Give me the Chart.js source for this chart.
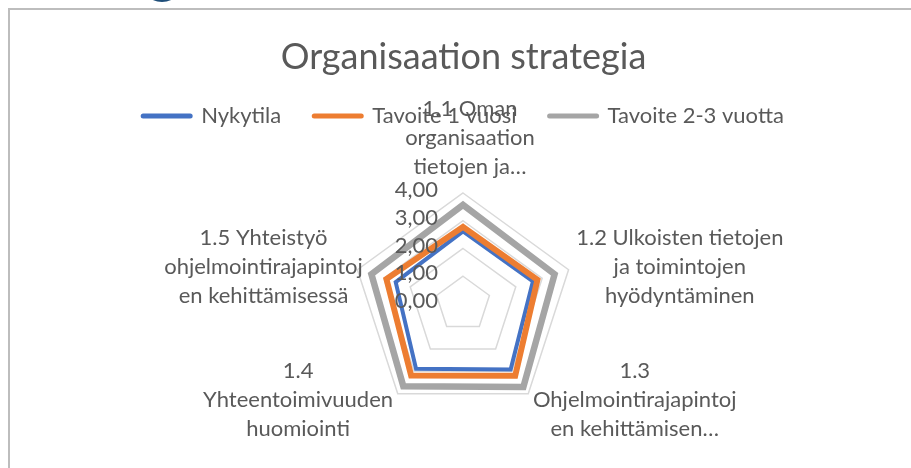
<!DOCTYPE html>
<html lang="fi">
<head>
<meta charset="utf-8">
<title>Organisaation strategia</title>
<script src="https://cdn.jsdelivr.net/npm/chart.js@4.4.1/dist/chart.umd.min.js"></script>
<style>
  html, body { margin: 0; padding: 0; background: #fff; overflow: hidden; }
  #wrap { position: relative; width: 911px; height: 468px; }
  #frame {
    position: absolute; left: 8px; top: 8px; width: 920px; height: 480px;
    border-top: 2px solid #bdbdbd; border-left: 2px solid #bdbdbd;
  }
  #logo {
    position: absolute; left: 150px; top: -10px; width: 24px; height: 12px;
    border-radius: 50%; background: #1f4e79;
  }
  canvas { position: absolute; left: 0; top: 0; }
</style>
</head>
<body>
<div id="wrap">
  <div id="logo"></div>
  <div id="frame"></div>
  <canvas id="chart" width="911" height="468"></canvas>
</div>
<script>
// Kategoriat (rivitetty kuten alkuperäisessä kaaviossa)
const categories = [
  ['1.1 Oman', 'organisaation', 'tietojen ja…'],
  ['1.2 Ulkoisten tietojen', 'ja toimintojen', 'hyödyntäminen'],
  ['1.3', 'Ohjelmointirajapintoj', 'en kehittämisen…'],
  ['1.4', 'Yhteentoimivuuden', 'huomiointi'],
  ['1.5 Yhteistyö', 'ohjelmointirajapintoj', 'en kehittämisessä']
];

const seriesNames = ['Nykytila', 'Tavoite 1 vuosi', 'Tavoite 2-3 vuotta'];
const nykytila = [2.62, 2.65, 2.92, 2.88, 2.55];
const tavoite1 = [2.78, 2.82, 3.2, 3.18, 2.9];
const tavoite23 = [3.57, 3.47, 3.7, 3.66, 3.47];

const tickValues = [0, 1, 2, 3, 4];

const FONT = 'Lato';
const TEXT = '#595959';

// label-siirrot (Excel asettelee pari nimiötä hieman eri tavalla)
const labelShift = [[7, -4], [0, 0], [0, 0], [0, 0], [13, 0]];

const fmt = v => v.toFixed(2).replace('.', ',');

// oma piirto akselin arvoille ja kategorianimille
const radarText = {
  id: 'radarText',
  afterDatasetsDraw(chart) {
    const s = chart.scales.r;
    const ctx = chart.ctx;
    ctx.save();
    ctx.fillStyle = TEXT;
    ctx.font = '22px ' + FONT;

    // arvoasteikko akselin vasemmalle puolelle
    ctx.textAlign = 'right';
    ctx.textBaseline = 'middle';
    tickValues.forEach(v => {
      const y = s.yCenter - s.getDistanceFromCenterForValue(v);
      ctx.fillText(fmt(v), s.xCenter - 25, y - 3);
    });

    // kategoriat
    const lh = 29;
    ctx.textAlign = 'center';
    categories.forEach((lines, i) => {
      const p = s.getPointPosition(i, s.drawingArea + 8);
      const ux = Math.sin(s.getIndexAngle(i));
      const w = Math.max(...lines.map(t => ctx.measureText(t).width));
      const h = lines.length * lh;
      let cx = p.x, top = p.y - h / 2;
      if (Math.abs(ux) < 0.05) {
        top = p.y - h;
      } else if (ux > 0) {
        cx = p.x + w / 2;
      } else {
        cx = p.x - w / 2;
      }
      cx += labelShift[i][0];
      top += labelShift[i][1];
      lines.forEach((t, k) => ctx.fillText(t, cx, top + lh * k + lh / 2));
    });
    ctx.restore();
  }
};

// lisätilaa selitteen alle
const legendSpace = {
  id: 'legendSpace',
  beforeInit(chart) {
    const origFit = chart.legend.fit;
    chart.legend.fit = function fit() {
      origFit.bind(chart.legend)();
      this.height += 56;
    };
  }
};

const colors = ['#4472C4', '#ED7D31', '#A5A5A5'];
const widths = [4, 6, 6.5];

new Chart(document.getElementById('chart'), {
  type: 'radar',
  data: {
    labels: categories,
    datasets: [nykytila, tavoite1, tavoite23].map((d, i) => ({
      label: seriesNames[i],
      data: d,
      borderColor: colors[i],
      backgroundColor: colors[i],
      borderWidth: widths[i],
      borderJoinStyle: 'miter',
      fill: false,
      pointRadius: 0,
      pointHoverRadius: 0,
      order: 3 - i
    }))
  },
  options: {
    responsive: false,
    animation: false,
    events: [],
    layout: { padding: { left: 16, right: 0, top: 0, bottom: 53 } },
    scales: {
      r: {
        min: 0,
        max: 4,
        ticks: { display: false, stepSize: 1 },
        pointLabels: { display: false },
        angleLines: { display: false },
        grid: { color: '#d9d9d9', lineWidth: 1.5 }
      }
    },
    plugins: {
      title: {
        display: true,
        text: 'Organisaation strategia',
        color: TEXT,
        font: { family: FONT, size: 36, weight: 'normal', lineHeight: 1 },
        padding: { top: 39, bottom: -3 }
      },
      legend: {
        position: 'top',
        labels: {
          color: TEXT,
          font: { family: FONT, size: 22 },
          usePointStyle: true,
          pointStyle: 'line',
          pointStyleWidth: 47,
          padding: 33,
          sort: (a, b) => a.datasetIndex - b.datasetIndex,
          generateLabels(chart) {
            return chart.data.datasets.map((ds, i) => ({
              text: ds.label,
              strokeStyle: ds.borderColor,
              fillStyle: ds.borderColor,
              fontColor: TEXT,
              lineWidth: 5,
              lineCap: 'round',
              pointStyle: 'line',
              datasetIndex: i,
              hidden: false
            }));
          }
        }
      },
      tooltip: { enabled: false }
    }
  },
  plugins: [legendSpace, radarText]
});
</script>
</body>
</html>
